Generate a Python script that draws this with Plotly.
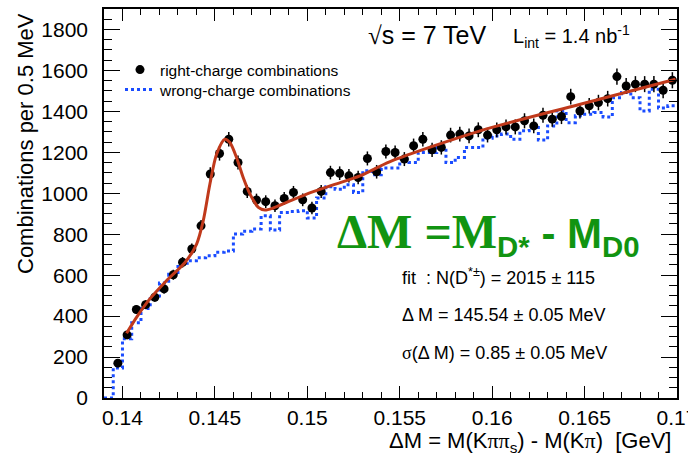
import plotly.graph_objects as go

# ---- data -------------------------------------------------------------
BIN_LO = 0.139
BIN_W = 0.0005
N_BINS = 62

# right-charge D*± candidates per 0.5 MeV bin (first bin is empty)
right_charge = [None,
                170, 308, 432, 456, 492, 533, 602, 663, 728, 841,
                1094, 1194, 1264, 1150, 1009, 967, 959, 939, 975, 1004,
                968, 928, 1009, 1101, 1098, 1085, 1077, 1170, 1105, 1204,
                1199, 1167, 1232, 1264, 1212, 1224, 1284, 1289, 1280, 1310,
                1284, 1310, 1324, 1324, 1354, 1329, 1381, 1362, 1375, 1472,
                1402, 1427, 1443, 1462, 1570, 1524, 1533, 1533, 1533, 1503, 1552]

# wrong-charge combinations (background shape), same binning
wrong_charge = [0, 147, 289, 367, 437, 498, 562, 605, 658, 670,
                685, 695, 712, 718, 801, 815, 825, 890, 820, 906,
                911, 915, 879, 977, 1032, 1020, 1041, 1004, 1110, 1090,
                1123, 1123, 1167, 1150, 1199, 1199, 1223, 1150, 1175, 1223,
                1223, 1269, 1280, 1289, 1264, 1305, 1321, 1260, 1329, 1402,
                1345, 1378, 1386, 1394, 1373, 1467, 1492, 1467, 1402, 1508,
                1416, 1427]

# fitted signal + background curve (sampled)
fit_x = [0.14022, 0.14076, 0.14148, 0.14238, 0.14338, 0.14401, 0.14437,
         0.14473, 0.14509, 0.14554, 0.14581, 0.14617, 0.14653, 0.14690,
         0.14735, 0.14771, 0.14816, 0.14888, 0.14996, 0.15140, 0.15285,
         0.15448, 0.15935, 0.16477, 0.16992]
fit_y = [316, 394, 484, 573, 662, 752, 866, 1045, 1191, 1264, 1248, 1175,
         1077, 996, 931, 918, 928, 955, 996, 1041, 1085, 1155, 1305, 1435,
         1557]

x_tickvals = [0.14, 0.145, 0.15, 0.155, 0.16, 0.165, 0.17]
x_ticktext = ["0.14", "0.145", "0.15", "0.155", "0.16", "0.165", "0.17"]

# ---- derived bin geometry --------------------------------------------
centers = [BIN_LO + BIN_W * (i + 0.5) for i in range(N_BINS)]
edges = [BIN_LO + BIN_W * i for i in range(N_BINS + 1)]
pts_x = [c for c, v in zip(centers, right_charge) if v is not None]
pts_y = [v for v in right_charge if v is not None]

SANS = "Liberation Sans, Arial, sans-serif"
SERIF = "Liberation Serif, Times New Roman, serif"
GREEN = "#119411"

W, H = 688, 454
L, R, T, B = 104, 11, 9, 56
PW, PH = W - L - R, H - T - B


def px(x):
    return (x - L) / PW


def py(y):
    return (H - B - y) / PH


fig = go.Figure()

fig.add_trace(go.Scatter(
    x=edges, y=wrong_charge + [wrong_charge[-1]],
    mode="lines", line=dict(color="#1a4cff", width=3, dash="dot", shape="hv"),
    name="wrong-charge combinations", legend="legend2",
))

fig.add_trace(go.Scatter(
    x=pts_x, y=pts_y, mode="markers",
    marker=dict(color="black", size=9),
    error_y=dict(type="sqrt", width=0, thickness=1.5, color="black"),
    name="right-charge combinations", legend="legend",
))

fig.add_trace(go.Scatter(
    x=fit_x, y=fit_y, mode="lines",
    line=dict(color="#c0391b", width=3, shape="spline", smoothing=0.8),
    showlegend=False,
))

axis_common = dict(
    showline=True, linecolor="black", linewidth=1.5, mirror="ticks",
    ticks="inside", tickcolor="black", tickwidth=1.2,
    showgrid=False, zeroline=False,
    tickfont=dict(family=SANS, size=21, color="black"),
)

fig.update_xaxes(
    range=[0.139, 0.170], tickmode="array", tickvals=x_tickvals,
    ticktext=x_ticktext, ticklen=12, ticklabelstandoff=0,
    ticklabeloverflow="allow",
    minor=dict(ticks="inside", ticklen=6, tickmode="linear",
               tick0=0.14, dtick=0.001, tickcolor="black", tickwidth=1.2),
    **axis_common,
)
fig.update_yaxes(
    range=[0, 1900], tickmode="linear", tick0=0, dtick=200,
    ticklen=16, ticklabelstandoff=10,
    minor=dict(ticks="inside", ticklen=8, tickmode="linear",
               tick0=0, dtick=50, tickcolor="black", tickwidth=1.2),
    **axis_common,
)

annotations = [
    dict(text="Combinations per 0.5 MeV", textangle=-90,
         x=px(25), y=py(144), xanchor="center", yanchor="middle",
         font=dict(family=SANS, size=22, color="black")),
    dict(text="ΔM = M(K<span style='font-family:Liberation Serif'>ππ</span>"
              "<sub>s</sub>) - M(K<span style='font-family:Liberation Serif'>π</span>)"
              "\u00a0\u00a0[GeV]",
         x=px(673), y=py(442), xanchor="right", yanchor="middle",
         font=dict(family=SANS, size=22, color="black")),
    dict(text="<span style='font-family:Liberation Serif'>√</span>s = 7 TeV",
         x=px(366), y=py(35), xanchor="left", yanchor="middle",
         font=dict(family=SANS, size=25, color="black")),
    dict(text="L<sub>int</sub> = 1.4 nb<sup>-1</sup>",
         x=px(511), y=py(36), xanchor="left", yanchor="middle",
         font=dict(family=SANS, size=20, color="black")),
    dict(text="<span style='font-family:Liberation Serif;font-size:48px'>ΔM =M</span>"
              "<sub>D*</sub> - M<sub>D0</sub>",
         x=px(335), y=py(234), xanchor="left", yanchor="middle",
         font=dict(family=SANS, size=42, color=GREEN, weight="bold")),
    dict(text="fit\u00a0\u00a0: N(D<sup>*±</sup>) = 2015 ± 115",
         x=px(400), y=py(276), xanchor="left", yanchor="middle",
         font=dict(family=SANS, size=18, color="black")),
    dict(text="Δ M = 145.54 ± 0.05 MeV",
         x=px(400), y=py(315), xanchor="left", yanchor="middle",
         font=dict(family=SANS, size=18, color="black")),
    dict(text="<span style='font-family:Liberation Serif'>σ</span>(Δ M) = 0.85 ± 0.05 MeV",
         x=px(400), y=py(353), xanchor="left", yanchor="middle",
         font=dict(family=SANS, size=18, color="black")),
]
for a in annotations:
    a.update(xref="paper", yref="paper", showarrow=False)

legend_style = dict(xanchor="left", yanchor="top",
                    bgcolor="rgba(0,0,0,0)", borderwidth=0,
                    font=dict(family=SANS, size=15.5, color="black"),
                    itemwidth=30)

fig.update_layout(
    width=W, height=H,
    margin=dict(l=L, r=R, t=T, b=B, autoexpand=False),
    paper_bgcolor="white", plot_bgcolor="white",
    annotations=annotations,
    legend=dict(x=px(120), y=py(53), **legend_style),
    legend2=dict(x=px(120), y=py(73), **legend_style),
)

fig.write_html("out.html")
